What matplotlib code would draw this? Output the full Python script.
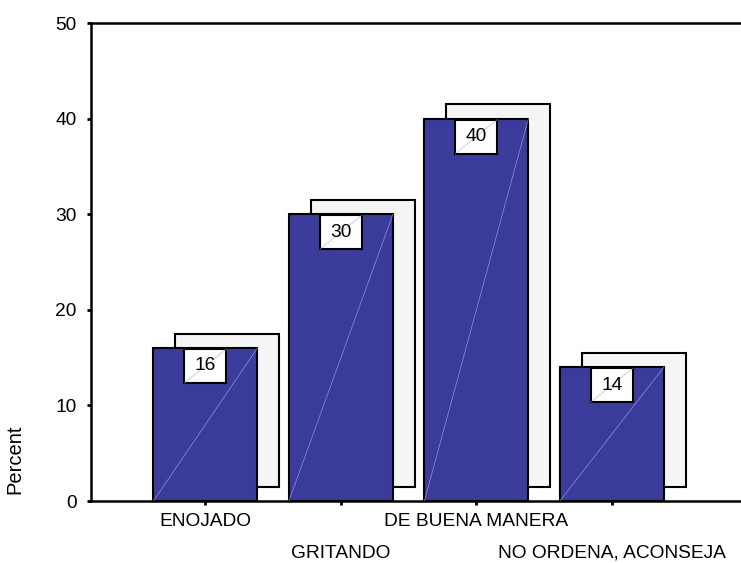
import matplotlib.pyplot as plt
from matplotlib.patches import Rectangle

plt.rcParams["font.family"] = ["Liberation Sans", "DejaVu Sans"]

categories = ["ENOJADO", "GRITANDO", "DE BUENA MANERA", "NO ORDENA, ACONSEJA"]
percent = [16, 30, 40, 14]
yticks = [0, 10, 20, 30, 40, 50]

BAR_COLOR = "#3b3b9c"
SHADOW_COLOR = "#f5f5f5"
DIAG_COLOR = "#a9a9e6"
BAR_W = 0.768
SH_DX, SH_DY = 0.16, 1.5
BOX_W, BOX_H = 0.31, 3.55
FS = 13.8

fig = plt.figure(figsize=(7.41, 5.63), dpi=100)
ax = fig.add_axes([0.1224, 0.1101, 0.8776, 0.849])

for i, v in enumerate(percent):
    x0 = i - BAR_W / 2
    # drop shadow behind the bar
    ax.add_patch(Rectangle((x0 + SH_DX, SH_DY), BAR_W, v, facecolor=SHADOW_COLOR,
                           edgecolor="black", lw=1.5, zorder=1))
    ax.add_patch(Rectangle((x0, 0), BAR_W, v, facecolor=BAR_COLOR,
                           edgecolor="black", lw=1.5, zorder=2))
    ax.plot([x0, x0 + BAR_W], [0, v], color=DIAG_COLOR, lw=0.5, alpha=0.8, zorder=3)
    # value label box hanging from the bar top
    by = v - 0.1 - BOX_H
    ax.add_patch(Rectangle((i - BOX_W / 2, by), BOX_W, BOX_H, facecolor="white",
                           edgecolor="black", lw=1.5, zorder=4))
    ax.plot([i - BOX_W / 2, i + BOX_W / 2], [by, by + BOX_H], color=DIAG_COLOR,
            lw=0.5, alpha=0.8, zorder=5)
    ax.text(i, by + BOX_H / 2, f"{v}", ha="center", va="center", fontsize=FS,
            zorder=6)

ax.set_xlim(-0.847, 3.953)
ax.set_ylim(0, 50)
ax.set_yticks(yticks)
ax.set_yticklabels([str(t) for t in yticks], fontsize=FS)
ax.set_xticks(range(len(categories)))
ax.set_xticklabels([])
ax.tick_params(axis="both", direction="out", length=3, width=2, pad=7)

for i, c in enumerate(categories):
    ypos = -0.042 if i % 2 == 0 else -0.109
    ax.text(i, ypos, c, transform=ax.get_xaxis_transform(), ha="center",
            va="center", fontsize=FS)

ax.spines["right"].set_visible(False)
for s in ("left", "bottom", "top"):
    ax.spines[s].set_linewidth(1.8)

fig.text(15 / 741, 1 - 459 / 563, "Percent", rotation=90, ha="center",
         va="center", fontsize=14.5)

fig.savefig("out.png", dpi=100)
